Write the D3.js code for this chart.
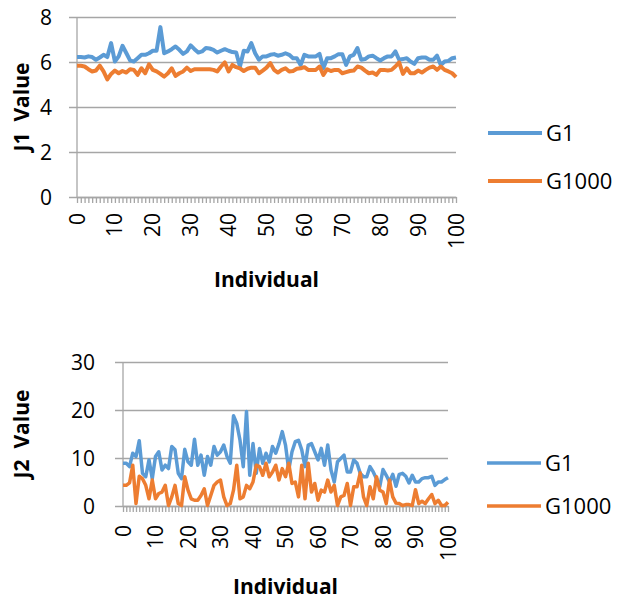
<!DOCTYPE html>
<html>
<head>
<meta charset="utf-8">
<script src="https://cdn.jsdelivr.net/npm/d3@7"></script>
<style>
  body { margin: 0; background: #fff; }
  svg { display: block; font-family: "Open Sans", "Liberation Sans", sans-serif; }
  .grid line { stroke: #a6a6a6; stroke-width: 1.3; }
  .axis path, .axis line { stroke: #a6a6a6; stroke-width: 1.3; }
  .tick-label { font-size: 21px; fill: #000; }
  .title { font-size: 21px; font-weight: bold; fill: #000; white-space: pre; }
  .legend { font-size: 22px; fill: #000; }
</style>
</head>
<body>
<div id="vis"></div>
<script>
// ---- data ----
const INDIVIDUALS = d3.range(0, 101);
const X_TICK_LABELS = [0, 10, 20, 30, 40, 50, 60, 70, 80, 90, 100];
const SERIES_NAMES = ["G1", "G1000"];

const J1_TICKS = [0, 2, 4, 6, 8];
const J1_G1 = [6.22, 6.22, 6.2, 6.25, 6.22, 6.1, 6.2, 6.32, 6.22, 6.84,
  6.02, 6.25, 6.72, 6.4, 6.07, 6.02, 6.17, 6.32, 6.32, 6.39,
  6.5, 6.5, 7.55, 6.39, 6.47, 6.57, 6.69, 6.54, 6.36, 6.47,
  6.74, 6.57, 6.42, 6.47, 6.62, 6.6, 6.54, 6.42, 6.5, 6.57,
  6.5, 6.44, 6.42, 5.8, 6.5, 6.47, 6.84, 6.39, 6.1, 6.25,
  6.25, 6.32, 6.35, 6.28, 6.32, 6.39, 6.32, 6.17, 6.17, 5.87,
  6.32, 6.25, 6.25, 6.25, 6.36, 5.72, 6.17, 6.17, 6.25, 6.35,
  6.35, 5.87, 6.25, 6.32, 6.62, 6.1, 6.13, 6.25, 6.28, 6.17,
  6.07, 6.17, 6.25, 6.25, 6.47, 6.1, 6.13, 6.17, 6.02, 5.92,
  6.17, 6.2, 6.2, 6.1, 6.1, 6.28, 5.87, 6.02, 6.05, 6.17, 6.2];
const J1_G1000 = [5.83, 5.83, 5.8, 5.68, 5.58, 5.62, 5.84, 5.58, 5.23, 5.47,
  5.62, 5.5, 5.6, 5.53, 5.68, 5.65, 5.43, 5.72, 5.5, 5.9,
  5.65, 5.58, 5.47, 5.35, 5.5, 5.72, 5.38, 5.5, 5.58, 5.75,
  5.6, 5.68, 5.68, 5.68, 5.68, 5.68, 5.65, 5.58, 5.8, 5.98,
  5.58, 5.87, 5.77, 5.72, 5.6, 5.7, 5.75, 5.75, 5.5, 5.62,
  5.75, 5.95, 5.65, 5.53, 5.65, 5.72, 5.58, 5.6, 5.7, 5.72,
  5.77, 5.65, 5.65, 5.65, 5.8, 5.43, 5.68, 5.6, 5.65, 5.65,
  5.5, 5.55, 5.6, 5.62, 5.8, 5.75, 5.62, 5.5, 5.53, 5.43,
  5.65, 5.65, 5.62, 5.65, 5.8, 5.98, 5.47, 5.72, 5.5, 5.5,
  5.62, 5.53, 5.65, 5.75, 5.8, 5.65, 5.8, 5.65, 5.58, 5.5, 5.33];

const J2_TICKS = [0, 10, 20, 30];
const J2_G1 = [8.9, 8.9, 8.2, 11, 10.3, 13.6, 6.8, 6.1, 9.6, 5.7,
  10.3, 11.3, 7.5, 8.5, 7.8, 12.4, 11.7, 6.8, 5.7, 11.8,
  9.2, 8.5, 13.9, 8.5, 10.6, 6.4, 10.3, 8.5, 12.4, 10.6,
  11.3, 12.7, 10.3, 8.9, 18.8, 17.2, 13.7, 8.2, 19.7, 6.4,
  13, 6.8, 12, 8.9, 11, 9.2, 12.4, 11, 13, 15.5,
  12.7, 7.5, 11.3, 13.4, 13.7, 11.7, 8.2, 12.7, 13, 11.3,
  9.6, 12, 8.5, 12.7, 7.5, 5, 9.2, 9.9, 10.6, 7.1,
  7.1, 9.6, 8.9, 6.8, 6.1, 6.1, 8.2, 7.1, 5.7, 4,
  7.6, 6.4, 5, 6.6, 4.1, 6.6, 6.8, 6.2, 4.8, 6.4,
  5, 5, 5.7, 5.9, 5.9, 6.2, 4.3, 5, 5, 5.5, 5.9];
const J2_G1000 = [4.3, 4.3, 4.8, 8.5, 0.5, 6.2, 5.7, 4.3, 1.5, 5.4,
  1.5, 2.6, 2.9, 4.3, 0.1, 1.9, 4.3, 0.5, 0.1, 6.1,
  3.3, 1.5, 1.2, 1.2, 2.2, 3.6, 0.1, 2.2, 4.3, 5,
  5.4, 1.9, 0.1, 0.5, 3.3, 8.5, 1.5, 1.9, 4.3, 3.6,
  5, 8.5, 8.2, 6.4, 8.9, 6.1, 7.1, 8.5, 5.4, 7.8,
  6.1, 8.9, 4.7, 5, 1.9, 8.5, 1.5, 8.9, 2.9, 4.7,
  1.2, 3.3, 2.9, 5.4, 2.9, 4.3, 0.1, 1.9, 2.2, 4.7,
  0.1, 4, 4, 6.9, 1.9, 0.1, 4, 1.5, 6.1, 3.3,
  2.9, 0.5, 5.4, 1.9, 0.6, 0.5, 0.1, 0.3, 0.3, 0.1,
  3.4, 0.5, 1, 0.5, 1.5, 2.4, 0.5, 1.2, 0.1, 0.1, 0.8];

const COLORS = ["#5b9bd5", "#ed7d31"];

const FRAME_WIDTH = 619;
const FRAME_HEIGHT = 601;

const FRAME = d3.select("#vis")
  .append("svg")
    .attr("width", FRAME_WIDTH)
    .attr("height", FRAME_HEIGHT);

// one line chart panel
function build_panel(opt) {
  const X_SCALE = d3.scaleLinear().domain([0, 100]).range([opt.left, opt.right]);
  const Y_SCALE = d3.scaleLinear().domain([0, d3.max(opt.yTicks)]).range([opt.bottom, opt.top]);

  // horizontal gridlines + outer ticks on the left
  FRAME.append("g")
    .attr("class", "grid")
    .attr("transform", "translate(" + opt.left + ",0)")
    .call(d3.axisLeft(Y_SCALE).tickValues(opt.yTicks).tickSizeInner(-(opt.right - opt.left)).tickSizeOuter(0).tickFormat(""))
    .call(g => g.select(".domain").remove())
    .call(g => g.selectAll(".tick line").attr("x1", -8).attr("x2", opt.right - opt.left));

  // y tick labels
  FRAME.append("g")
    .selectAll("text")
    .data(opt.yTicks)
    .enter()
    .append("text")
      .attr("class", "tick-label")
      .attr("x", opt.left - opt.yLabelGap)
      .attr("y", d => Y_SCALE(d))
      .attr("dy", "0.36em")
      .attr("text-anchor", "end")
      .text(d => d);

  // y axis line
  FRAME.append("line")
    .attr("x1", opt.left).attr("x2", opt.left)
    .attr("y1", opt.top).attr("y2", opt.bottom)
    .attr("stroke", "#a6a6a6").attr("stroke-width", 1.3);

  // x axis with a tick at every individual
  FRAME.append("g")
    .attr("class", "axis")
    .attr("transform", "translate(0," + opt.bottom + ")")
    .call(d3.axisBottom(X_SCALE).tickValues(INDIVIDUALS).tickSize(6).tickSizeOuter(0).tickFormat(""));

  // rotated x labels
  FRAME.append("g")
    .selectAll("text")
    .data(X_TICK_LABELS)
    .enter()
    .append("text")
      .attr("class", "tick-label")
      .attr("transform", d => "translate(" + X_SCALE(d) + "," + (opt.bottom + opt.xLabelGap) + ") rotate(-90)")
      .attr("dy", "0.36em")
      .attr("text-anchor", "end")
      .text(d => d);

  // lines
  const line = d3.line()
    .x((d, i) => X_SCALE(INDIVIDUALS[i]))
    .y(d => Y_SCALE(d));

  opt.series.forEach((s, k) => {
    FRAME.append("path")
      .datum(s)
      .attr("d", line)
      .attr("fill", "none")
      .attr("stroke", COLORS[k])
      .attr("stroke-width", opt.lineWidth)
      .attr("stroke-linejoin", "round");
  });

  // axis titles
  FRAME.append("text")
    .attr("class", "title")
    .attr("x", (opt.left + opt.right) / 2)
    .attr("y", opt.xTitleY)
    .attr("dy", "0.36em")
    .attr("text-anchor", "middle")
    .text("Individual");

  FRAME.append("text")
    .attr("class", "title")
    .attr("transform", "translate(" + opt.yTitleX + "," + ((opt.top + opt.bottom) / 2) + ") rotate(-90)")
    .attr("dy", "0.36em")
    .attr("text-anchor", "middle")
    .text(opt.yTitle);

  // legend
  SERIES_NAMES.forEach((name, k) => {
    const ly = opt.legendY[k];
    FRAME.append("line")
      .attr("x1", opt.legendX).attr("x2", opt.legendX + 54)
      .attr("y1", ly).attr("y2", ly)
      .attr("stroke", COLORS[k])
      .attr("stroke-width", opt.lineWidth);
    FRAME.append("text")
      .attr("class", "legend")
      .attr("x", opt.legendX + 58)
      .attr("y", ly)
      .attr("dy", "0.36em")
      .text(name);
  });
}

build_panel({
  left: 77, right: 456, top: 17, bottom: 197,
  yTicks: J1_TICKS, series: [J1_G1, J1_G1000],
  yLabelGap: 25, xLabelGap: 16, lineWidth: 4,
  xTitleY: 279, yTitleX: 21, yTitle: "J1  Value",
  legendX: 488, legendY: [133, 181]
});

build_panel({
  left: 123, right: 448, top: 362, bottom: 506,
  yTicks: J2_TICKS, series: [J2_G1, J2_G1000],
  yLabelGap: 28, xLabelGap: 19, lineWidth: 3.5,
  xTitleY: 586, yTitleX: 21, yTitle: "J2  Value",
  legendX: 487, legendY: [463, 506]
});
</script>
</body>
</html>
